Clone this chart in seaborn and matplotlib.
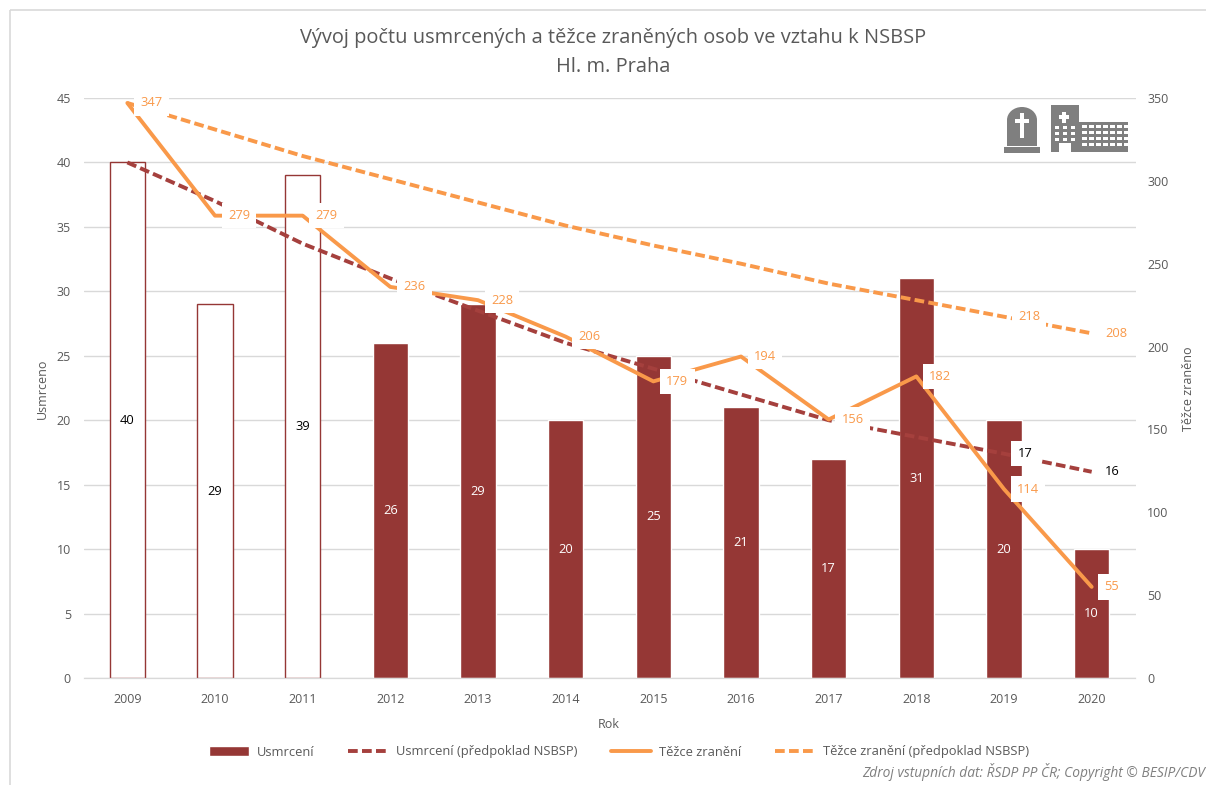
import numpy as np
import pandas as pd
import seaborn as sns
import matplotlib.pyplot as plt
from matplotlib.lines import Line2D
from matplotlib.patches import Patch, Rectangle, Ellipse

sns.set_style("white")
plt.rcParams["font.family"] = ["Open Sans", "DejaVu Sans"]

roky = [2009, 2010, 2011, 2012, 2013, 2014, 2015, 2016, 2017, 2018, 2019, 2020]
usmrceni = [40, 29, 39, 26, 29, 20, 25, 21, 17, 31, 20, 10]
usmrceni_nsbsp = [40, 37, 33.7, 31, 28.5, 26, 24, 22, 20, 18.7, 17.4, 16]
zraneni = [347, 279, 279, 236, 228, 206, 179, 194, 156, 182, 114, 55]
zraneni_nsbsp = [347, 331, 315, 301, 287, 273, 261, 250, 238, 228, 218, 208]

TXT = "#595959"
RED = "#953735"
RED_LINE = "#A5403D"
ORANGE = "#F9994A"

df = pd.DataFrame({
    "rok": roky,
    "usmrceni": usmrceni,
    "usmrceni_nsbsp": usmrceni_nsbsp,
    "zraneni": zraneni,
    "zraneni_nsbsp": zraneni_nsbsp,
})
df["pos"] = range(len(df))

W, H = 1206, 785
fig = plt.figure(figsize=(W / 100, H / 100), dpi=100)
ax = fig.add_axes([83.5 / W, 1 - 678 / H, 1052 / W, 580 / H])
ax2 = ax.twinx()

## bars
sns.barplot(ax=ax, data=df, x="rok", y="usmrceni", color=RED, width=0.4, saturation=1)
for i, p in enumerate(ax.patches):
    if i < 3:
        p.set_facecolor("white")
        p.set_edgecolor(RED)
        p.set_linewidth(1)

## lines
dash = (0, (2.5, 1.1))
sns.lineplot(ax=ax, data=df, x="pos", y="usmrceni_nsbsp", color=RED_LINE, lw=2.8, linestyle=dash)
sns.lineplot(ax=ax2, data=df, x="pos", y="zraneni", color=ORANGE, lw=2.8)
sns.lineplot(ax=ax2, data=df, x="pos", y="zraneni_nsbsp", color=ORANGE, lw=2.8, linestyle=dash)

ax.set_xlim(-0.5, 11.5)
ax.set_ylim(0, 45)
ax2.set_ylim(0, 350)
ax.set_yticks(range(0, 46, 5))
ax2.set_yticks(range(0, 351, 50))
ax.yaxis.grid(True, color="#d9d9d9", lw=1)
ax.set_axisbelow(True)
ax2.grid(False)
for a in (ax, ax2):
    for s in ("top", "left", "right"):
        a.spines[s].set_visible(False)
    a.spines["bottom"].set_color("#d9d9d9")
    a.tick_params(length=0, labelsize=9, labelcolor=TXT)
ax.tick_params(axis="x", pad=11)
ax.tick_params(axis="y", pad=9)
ax2.tick_params(axis="y", pad=8.5)
ax.set_xlabel("")
ax.set_ylabel("")
ax2.set_ylabel("")

## value labels
box = dict(facecolor="white", edgecolor="none", pad=4.5)
for i, v in enumerate(usmrceni):
    ax.text(i, v / 2, str(v), ha="center", va="center", fontsize=9.3,
            color="black" if i < 3 else "white")
for i, v in enumerate(zraneni):
    dx = 20 if i == 11 else 24
    ax2.annotate(str(v), (i, v), xytext=(dx, 0), textcoords="offset pixels", ha="center",
                 va="center", fontsize=9.3, color=ORANGE, bbox=box)
for i in (10, 11):
    ax2.annotate(str(zraneni_nsbsp[i]), (i, zraneni_nsbsp[i]), xytext=(25, 0), textcoords="offset pixels",
                 ha="center", va="center", fontsize=9.3, color=ORANGE, bbox=box)
    ax2.annotate(f"{usmrceni_nsbsp[i]:.0f}", (i, usmrceni_nsbsp[i] * 350 / 45), xytext=(21, 0),
                 textcoords="offset pixels", ha="center", va="center", fontsize=9.3, color="black", bbox=box)

## texts
fig.text(613.5 / W, 1 - 38.5 / H, "Vývoj počtu usmrcených a těžce zraněných osob ve vztahu k NSBSP",
         ha="center", va="center", fontsize=14.4, color=TXT)
fig.text(613 / W, 1 - 67 / H, "Hl. m. Praha", ha="center", va="center", fontsize=14.4, color=TXT)
fig.text(42 / W, 1 - 389 / H, "Usmrceno", rotation=90, ha="center", va="center", fontsize=9, color=TXT)
fig.text(1189 / W, 1 - 389 / H, "Těžce zraněno", rotation=90, ha="center", va="center", fontsize=9, color=TXT)
fig.text(609 / W, 1 - 725 / H, "Rok", ha="center", va="center", fontsize=9, color=TXT)
fig.text(1205 / W, 1 - 772 / H, "Zdroj vstupních dat: ŘSDP PP ČR; Copyright © BESIP/CDV", ha="right",
         va="center", fontsize=9.9, style="italic", color="#7f7f7f")

## legend
handles = [
    Patch(facecolor=RED, label="Usmrcení"),
    Line2D([], [], color=RED_LINE, lw=2.8, linestyle=(0, (2.5, 1.1)), label="Usmrcení (předpoklad NSBSP)"),
    Line2D([], [], color=ORANGE, lw=2.8, label="Těžce zranění"),
    Line2D([], [], color=ORANGE, lw=2.8, linestyle=(0, (2.5, 1.1)), label="Těžce zranění (předpoklad NSBSP)"),
]
fig.legend(handles=handles, loc="center", bbox_to_anchor=(619 / W, 1 - 752 / H), ncol=4, frameon=False,
           fontsize=9.3, labelcolor=TXT, handlelength=3.1, handleheight=0.7, columnspacing=2.6, handletextpad=0.6)

## icons and frame, in pixel coordinates
ov = fig.add_axes([0, 0, 1, 1], facecolor="none")
ov.set_xlim(0, W)
ov.set_ylim(H, 0)
ov.axis("off")
GR = "#7f7f7f"
ov.add_patch(Rectangle((9.5, 9.5), W, H, fill=False, ec="#d9d9d9", lw=1.2))
ov.add_patch(Rectangle((1004, 147), 36, 6, fc=GR, ec="none"))
ov.add_patch(Rectangle((1007, 120), 30, 26, fc=GR, ec="none"))
ov.add_patch(Ellipse((1022, 120), 30, 26, fc=GR, ec="none"))
ov.add_patch(Rectangle((1020, 113), 4, 25, fc="white", ec="none"))
ov.add_patch(Rectangle((1015, 119), 14, 4, fc="white", ec="none"))
ov.add_patch(Rectangle((1051, 105), 28, 47, fc=GR, ec="none"))
ov.add_patch(Rectangle((1079, 122), 49, 30, fc=GR, ec="none"))
ov.add_patch(Rectangle((1062, 112), 4, 11, fc="white", ec="none"))
ov.add_patch(Rectangle((1059, 115), 10, 4, fc="white", ec="none"))
ov.add_patch(Rectangle((1059, 143), 12, 9, fc="white", ec="none"))
for wy in (126, 132, 138):
    for wx in (1055, 1063, 1071):
        ov.add_patch(Rectangle((wx, wy), 4, 3, fc="white", ec="none"))
for wy in (125, 131, 137, 143):
    for wx in range(1082, 1126, 7):
        ov.add_patch(Rectangle((wx, wy), 5, 3, fc="white", ec="none"))

fig.savefig("out.png", dpi=100, facecolor="white")
